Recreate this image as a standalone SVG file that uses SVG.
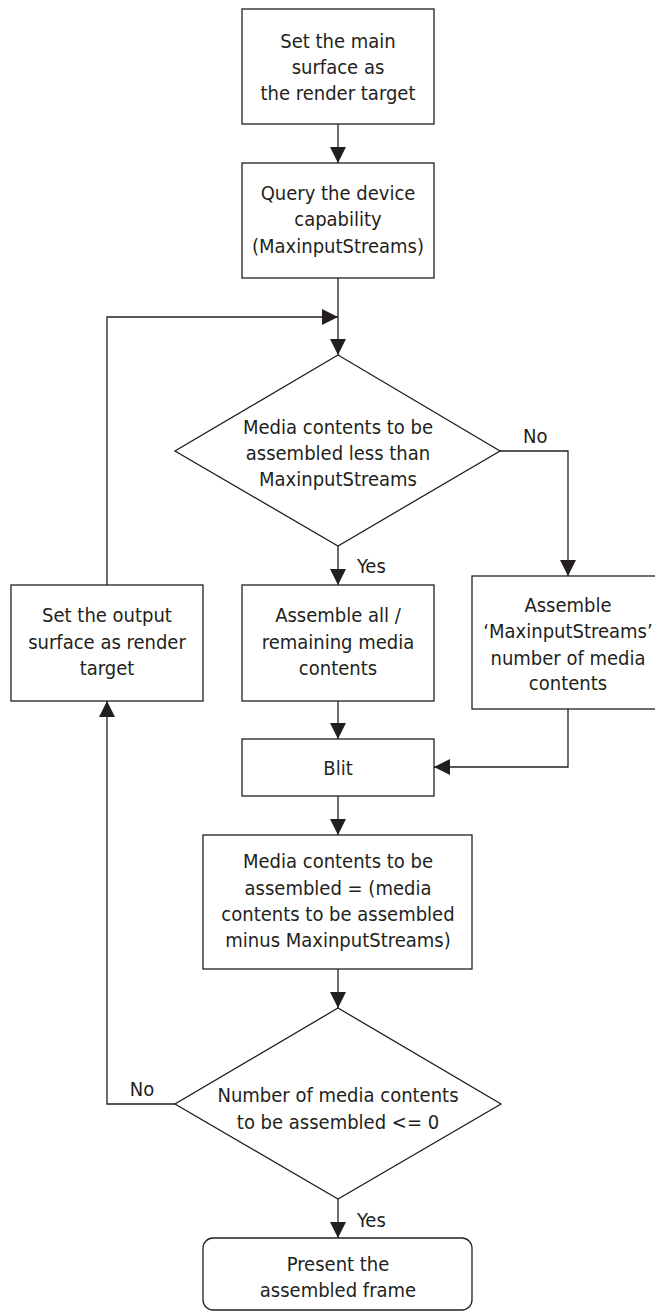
<svg xmlns="http://www.w3.org/2000/svg" width="655" height="1311" viewBox="0 0 655 1311">
  <style>
    .box { fill: #ffffff; stroke: #231f20; stroke-width: 1.3; }
    .edge { fill: none; stroke: #231f20; stroke-width: 1.3; }
    text { font-family: "DejaVu Sans Condensed", "Liberation Sans", Arial, sans-serif; font-size: 20px; fill: #231f20; }
    .c { text-anchor: middle; }
  </style>
  <defs>
    <marker id="arrow" markerUnits="userSpaceOnUse" markerWidth="16" markerHeight="16" viewBox="0 0 15 15" refX="15" refY="7.5" orient="auto">
      <path d="M0,0 L15,7.5 L0,15 z" fill="#231f20"/>
    </marker>
  </defs>
  <rect width="655" height="1311" fill="#ffffff"/>

  <g id="connectors">
    <line class="edge" x1="338" y1="124" x2="338" y2="163" marker-end="url(#arrow)"/>
    <line class="edge" x1="338" y1="278" x2="338" y2="355" marker-end="url(#arrow)"/>
    <polyline class="edge" points="107,585 107,317 338,317" marker-end="url(#arrow)"/>
    <polyline class="edge" points="500,451 568,451 568,576" marker-end="url(#arrow)"/>
    <line class="edge" x1="338" y1="546" x2="338" y2="585" marker-end="url(#arrow)"/>
    <line class="edge" x1="338" y1="701" x2="338" y2="739" marker-end="url(#arrow)"/>
    <polyline class="edge" points="568,709 568,767 434,767" marker-end="url(#arrow)"/>
    <line class="edge" x1="338" y1="796" x2="338" y2="835" marker-end="url(#arrow)"/>
    <line class="edge" x1="338" y1="969" x2="338" y2="1008" marker-end="url(#arrow)"/>
    <polyline class="edge" points="175,1104 107,1104 107,701" marker-end="url(#arrow)"/>
    <line class="edge" x1="338" y1="1199" x2="338" y2="1238" marker-end="url(#arrow)"/>
    <text x="357" y="573">Yes</text>
    <text x="523" y="443">No</text>
    <text x="142" y="1096" class="c">No</text>
    <text x="357" y="1227">Yes</text>
  </g>

  <g id="set-main-surface">
    <rect class="box" x="242" y="9" width="192" height="115"/>
    <text x="338" y="48" class="c">Set the main</text>
    <text x="338" y="74" class="c">surface as</text>
    <text x="338" y="100" class="c">the render target</text>
  </g>

  <g id="query-capability">
    <rect class="box" x="242" y="163" width="192" height="115"/>
    <text x="338" y="200" class="c">Query the device</text>
    <text x="338" y="226" class="c">capability</text>
    <text x="338" y="253" class="c">(MaxinputStreams)</text>
  </g>

  <g id="decision-less-than">
    <polygon class="box" points="338,355 500,451 338,546 175,451"/>
    <text x="338" y="434" class="c">Media contents to be</text>
    <text x="338" y="460" class="c">assembled less than</text>
    <text x="338" y="486" class="c">MaxinputStreams</text>
  </g>

  <g id="set-output-surface">
    <rect class="box" x="11" y="585" width="192" height="116"/>
    <text x="107" y="622" class="c">Set the output</text>
    <text x="107" y="649" class="c">surface as render</text>
    <text x="107" y="675" class="c">target</text>
  </g>

  <g id="assemble-all">
    <rect class="box" x="242" y="585" width="192" height="116"/>
    <text x="338" y="622" class="c">Assemble all /</text>
    <text x="338" y="649" class="c">remaining media</text>
    <text x="338" y="675" class="c">contents</text>
  </g>

  <g id="assemble-max">
    <rect class="box" x="472" y="576" width="193" height="133"/>
    <text x="568" y="612" class="c">Assemble</text>
    <text x="568" y="638" class="c">‘MaxinputStreams’</text>
    <text x="568" y="665" class="c">number of media</text>
    <text x="568" y="690" class="c">contents</text>
  </g>

  <g id="blit">
    <rect class="box" x="242" y="739" width="192" height="57"/>
    <text x="338" y="775" class="c">Blit</text>
  </g>

  <g id="update-count">
    <rect class="box" x="203" y="835" width="269" height="134"/>
    <text x="338" y="868" class="c">Media contents to be</text>
    <text x="338" y="895" class="c">assembled = (media</text>
    <text x="338" y="921" class="c">contents to be assembled</text>
    <text x="338" y="947" class="c">minus MaxinputStreams)</text>
  </g>

  <g id="decision-done">
    <polygon class="box" points="338,1008 501,1104 338,1199 175,1104"/>
    <text x="338" y="1102" class="c">Number of media contents</text>
    <text x="338" y="1129" class="c">to be assembled &lt;= 0</text>
  </g>

  <g id="present-frame">
    <rect class="box" x="203" y="1238" width="269" height="72" rx="10" ry="10"/>
    <text x="338" y="1271" class="c">Present the</text>
    <text x="338" y="1297" class="c">assembled frame</text>
  </g>
</svg>
